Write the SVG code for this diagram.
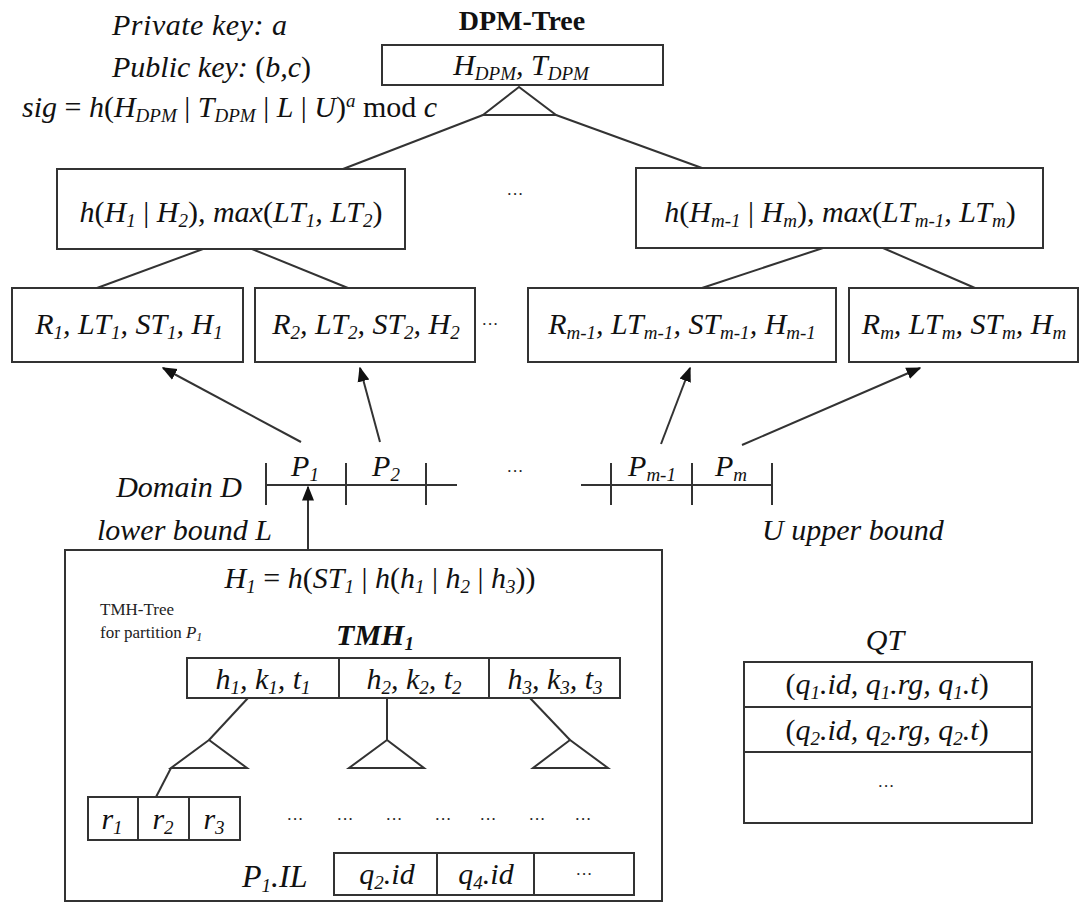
<svg xmlns="http://www.w3.org/2000/svg" width="1086" height="904" viewBox="0 0 1086 904" font-family="Liberation Serif, DejaVu Serif, serif">
<defs>
<style>
text{font-family:"Liberation Serif","DejaVu Serif",serif}
.t{font-style:italic;font-size:30px;fill:#111}
.m{text-anchor:middle}
.r{font-style:normal}
.s{font-size:19px}
.b{font-weight:bold}
.sm{font-size:17px;fill:#222}
.box{fill:#fff;stroke:#333;stroke-width:2}
.ln{stroke:#333;stroke-width:2;fill:none}
</style>
<marker id="ah2" viewBox="0 0 10 10" refX="9" refY="5" markerWidth="15" markerHeight="15" orient="auto" markerUnits="userSpaceOnUse">
<path d="M0,1 L10,5 L0,9 z" fill="#111"/>
</marker>
</defs>
<rect width="1086" height="904" fill="#fff"/>

<g id="keys">
<text class="t" x="112" y="35" textLength="175" lengthAdjust="spacing">Private key: a</text>
<text class="t" x="112" y="77">Public key: <tspan class="r">(</tspan>b,c<tspan class="r">)</tspan></text>
<text class="t" x="22" y="117">sig <tspan class="r">=</tspan> h<tspan class="r">(</tspan>H<tspan class="s" dy="5">DPM</tspan><tspan class="r" dy="-5"> | </tspan>T<tspan class="s" dy="5">DPM</tspan><tspan class="r" dy="-5"> | </tspan>L<tspan class="r"> | </tspan>U<tspan class="r">)</tspan><tspan class="s" dy="-10">a</tspan><tspan class="r" dy="10"> mod </tspan>c</text>
</g>

<g id="dpm-root">
<text class="t m b r" x="522" y="30" style="font-style:normal;font-size:28px">DPM-Tree</text>
<rect class="box" x="382" y="45" width="281" height="40"/>
<text class="t m" x="521" y="75">H<tspan class="s" dy="5">DPM</tspan><tspan dy="-5">, T</tspan><tspan class="s" dy="5">DPM</tspan></text>
<path class="ln" d="M519,87 L483,115 L556,115 Z"/>
</g>

<g id="n-left">
<rect class="box" x="57" y="169" width="348" height="80"/>
<text class="t m" x="231" y="222">h<tspan class="r">(</tspan>H<tspan class="s" dy="5">1</tspan><tspan class="r" dy="-5"> | </tspan>H<tspan class="s" dy="5">2</tspan><tspan class="r" dy="-5">)</tspan>, max<tspan class="r">(</tspan>LT<tspan class="s" dy="5">1</tspan><tspan dy="-5">, LT</tspan><tspan class="s" dy="5">2</tspan><tspan class="r" dy="-5">)</tspan></text>
</g>

<g id="n-right">
<rect class="box" x="636" y="168" width="407" height="80"/>
<text class="t m" x="840" y="222">h<tspan class="r">(</tspan>H<tspan class="s" dy="5">m-1</tspan><tspan class="r" dy="-5"> | </tspan>H<tspan class="s" dy="5">m</tspan><tspan class="r" dy="-5">)</tspan>, max<tspan class="r">(</tspan>LT<tspan class="s" dy="5">m-1</tspan><tspan dy="-5">, LT</tspan><tspan class="s" dy="5">m</tspan><tspan class="r" dy="-5">)</tspan></text>
</g>

<text class="sm m" x="515" y="200">···</text>

<g id="leaf1">
<rect class="box" x="12" y="288" width="231" height="74"/>
<text class="t m" x="129" y="334">R<tspan class="s" dy="5">1</tspan><tspan dy="-5">, LT</tspan><tspan class="s" dy="5">1</tspan><tspan dy="-5">, ST</tspan><tspan class="s" dy="5">1</tspan><tspan dy="-5">, H</tspan><tspan class="s" dy="5">1</tspan></text>
</g>
<g id="leaf2">
<rect class="box" x="255" y="288" width="220" height="74"/>
<text class="t m" x="366" y="334">R<tspan class="s" dy="5">2</tspan><tspan dy="-5">, LT</tspan><tspan class="s" dy="5">2</tspan><tspan dy="-5">, ST</tspan><tspan class="s" dy="5">2</tspan><tspan dy="-5">, H</tspan><tspan class="s" dy="5">2</tspan></text>
</g>
<text class="sm m" x="490" y="330">···</text>
<g id="leaf3">
<rect class="box" x="528" y="288" width="308" height="74"/>
<text class="t m" x="682" y="334">R<tspan class="s" dy="5">m-1</tspan><tspan dy="-5">, LT</tspan><tspan class="s" dy="5">m-1</tspan><tspan dy="-5">, ST</tspan><tspan class="s" dy="5">m-1</tspan><tspan dy="-5">, H</tspan><tspan class="s" dy="5">m-1</tspan></text>
</g>
<g id="leaf4">
<rect class="box" x="849" y="288" width="229" height="74"/>
<text class="t m" x="964" y="334">R<tspan class="s" dy="5">m</tspan><tspan dy="-5">, LT</tspan><tspan class="s" dy="5">m</tspan><tspan dy="-5">, ST</tspan><tspan class="s" dy="5">m</tspan><tspan dy="-5">, H</tspan><tspan class="s" dy="5">m</tspan></text>
</g>

<g id="connectors">
<line class="ln" x1="483" y1="115" x2="343" y2="169"/>
<line class="ln" x1="556" y1="115" x2="702" y2="168"/>
<line class="ln" x1="203" y1="249" x2="97" y2="288"/>
<line class="ln" x1="252" y1="249" x2="348" y2="288"/>
<line class="ln" x1="823" y1="248" x2="702" y2="288"/>
<line class="ln" x1="883" y1="248" x2="975" y2="288"/>
<line class="ln" x1="301" y1="442" x2="163" y2="368" marker-end="url(#ah2)"/>
<line class="ln" x1="380" y1="442" x2="360" y2="368" marker-end="url(#ah2)"/>
<line class="ln" x1="661" y1="444" x2="690" y2="368" marker-end="url(#ah2)"/>
<line class="ln" x1="742" y1="445" x2="920" y2="368" marker-end="url(#ah2)"/>
<line class="ln" x1="308" y1="550" x2="308" y2="487" marker-end="url(#ah2)"/>
</g>

<g id="domain">
<line class="ln" x1="266" y1="485" x2="457" y2="485"/>
<line class="ln" x1="266" y1="463" x2="266" y2="505"/>
<line class="ln" x1="346" y1="463" x2="346" y2="505"/>
<line class="ln" x1="426" y1="463" x2="426" y2="505"/>
<line class="ln" x1="581" y1="485" x2="772" y2="485"/>
<line class="ln" x1="611" y1="463" x2="611" y2="505"/>
<line class="ln" x1="692" y1="463" x2="692" y2="505"/>
<line class="ln" x1="772" y1="463" x2="772" y2="505"/>
<text class="t m" x="305" y="476">P<tspan class="s" dy="5">1</tspan></text>
<text class="t m" x="386" y="476">P<tspan class="s" dy="5">2</tspan></text>
<text class="sm m" x="515" y="477">···</text>
<text class="t m" x="652" y="476">P<tspan class="s" dy="5">m-1</tspan></text>
<text class="t m" x="731" y="476">P<tspan class="s" dy="5">m</tspan></text>
<text class="t" x="242" y="497" text-anchor="end">Domain D</text>
<text class="t" x="97" y="540">lower bound L</text>
<text class="t" x="762" y="540">U upper bound</text>
</g>

<g id="tmh">
<rect class="box" x="65" y="550" width="597" height="351"/>
<text class="t m" x="380" y="588">H<tspan class="s" dy="5">1</tspan><tspan class="r" dy="-5"> = </tspan>h<tspan class="r">(</tspan>ST<tspan class="s" dy="5">1</tspan><tspan class="r" dy="-5"> | </tspan>h<tspan class="r">(</tspan>h<tspan class="s" dy="5">1</tspan><tspan class="r" dy="-5"> | </tspan>h<tspan class="s" dy="5">2</tspan><tspan class="r" dy="-5"> | </tspan>h<tspan class="s" dy="5">3</tspan><tspan class="r" dy="-5">))</tspan></text>
<text class="sm" x="100" y="615">TMH-Tree</text>
<text class="sm" x="100" y="638">for partition <tspan font-style="italic">P</tspan><tspan font-style="italic" font-size="12" dy="3">1</tspan></text>
<text class="t m b" x="375" y="645">TMH<tspan class="s" dy="5">1</tspan></text>
<rect class="box" x="187" y="658" width="433" height="40"/>
<line class="ln" x1="339" y1="658" x2="339" y2="698"/>
<line class="ln" x1="489" y1="658" x2="489" y2="698"/>
<text class="t m" x="263" y="689">h<tspan class="s" dy="5">1</tspan><tspan dy="-5">, k</tspan><tspan class="s" dy="5">1</tspan><tspan dy="-5">, t</tspan><tspan class="s" dy="5">1</tspan></text>
<text class="t m" x="414" y="689">h<tspan class="s" dy="5">2</tspan><tspan dy="-5">, k</tspan><tspan class="s" dy="5">2</tspan><tspan dy="-5">, t</tspan><tspan class="s" dy="5">2</tspan></text>
<text class="t m" x="555" y="689">h<tspan class="s" dy="5">3</tspan><tspan dy="-5">, k</tspan><tspan class="s" dy="5">3</tspan><tspan dy="-5">, t</tspan><tspan class="s" dy="5">3</tspan></text>
<line class="ln" x1="248" y1="698" x2="209" y2="740"/>
<line class="ln" x1="387" y1="698" x2="387" y2="740"/>
<line class="ln" x1="530" y1="698" x2="570" y2="740"/>
<path class="ln" d="M209,740 L171,768 L247,768 Z"/>
<path class="ln" d="M387,740 L349,768 L424,768 Z"/>
<path class="ln" d="M570,740 L533,768 L608,768 Z"/>
<line class="ln" x1="171" y1="768" x2="156" y2="797"/>
<rect class="box" x="88" y="797" width="152" height="43"/>
<line class="ln" x1="138" y1="797" x2="138" y2="840"/>
<line class="ln" x1="189" y1="797" x2="189" y2="840"/>
<text class="t m" x="112" y="829">r<tspan class="s" dy="5">1</tspan></text>
<text class="t m" x="163" y="829">r<tspan class="s" dy="5">2</tspan></text>
<text class="t m" x="214" y="829">r<tspan class="s" dy="5">3</tspan></text>
<text class="sm m" x="295" y="825">···</text>
<text class="sm m" x="345" y="825">···</text>
<text class="sm m" x="394" y="825">···</text>
<text class="sm m" x="443" y="825">···</text>
<text class="sm m" x="488" y="825">···</text>
<text class="sm m" x="537" y="825">···</text>
<text class="sm m" x="583" y="825">···</text>
<text class="t" x="242" y="887" style="font-size:32px">P<tspan class="s" dy="5">1</tspan><tspan dy="-5">.IL</tspan></text>
<rect class="box" x="334" y="853" width="300" height="42"/>
<line class="ln" x1="437" y1="853" x2="437" y2="895"/>
<line class="ln" x1="534" y1="853" x2="534" y2="895"/>
<text class="t m" x="387" y="884">q<tspan class="s" dy="5">2</tspan><tspan dy="-5">.id</tspan></text>
<text class="t m" x="486" y="884">q<tspan class="s" dy="5">4</tspan><tspan dy="-5">.id</tspan></text>
<text class="sm m" x="584" y="880">···</text>
</g>

<g id="qt">
<text class="t m" x="885" y="650">QT</text>
<rect class="box" x="744" y="662" width="288" height="161"/>
<line class="ln" x1="744" y1="707" x2="1032" y2="707"/>
<line class="ln" x1="744" y1="752" x2="1032" y2="752"/>
<text class="t m" x="887" y="694"><tspan class="r">(</tspan>q<tspan class="s" dy="5">1</tspan><tspan dy="-5">.id, q</tspan><tspan class="s" dy="5">1</tspan><tspan dy="-5">.rg, q</tspan><tspan class="s" dy="5">1</tspan><tspan dy="-5">.t</tspan><tspan class="r">)</tspan></text>
<text class="t m" x="887" y="740"><tspan class="r">(</tspan>q<tspan class="s" dy="5">2</tspan><tspan dy="-5">.id, q</tspan><tspan class="s" dy="5">2</tspan><tspan dy="-5">.rg, q</tspan><tspan class="s" dy="5">2</tspan><tspan dy="-5">.t</tspan><tspan class="r">)</tspan></text>
<text class="sm m" x="886" y="792">···</text>
</g>
</svg>
